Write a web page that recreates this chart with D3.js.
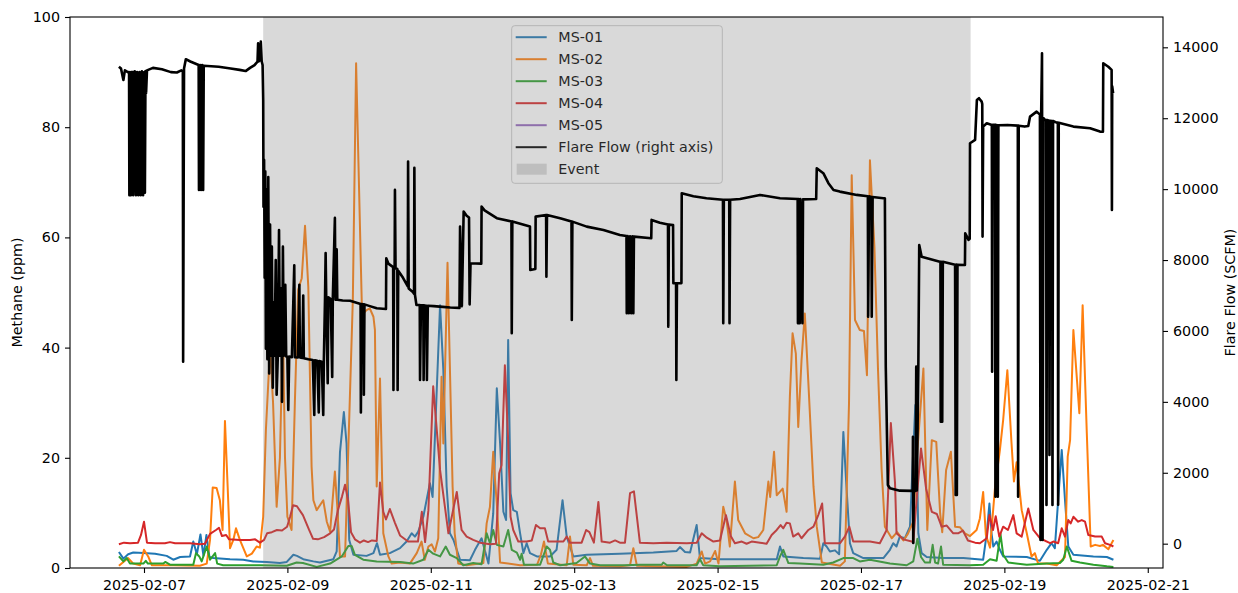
<!DOCTYPE html>
<html>
<head>
<meta charset="utf-8">
<script src="https://cdn.jsdelivr.net/npm/d3@7"></script>
<style>
  body { margin: 0; background: #fff; }
  text { font-family: "DejaVu Sans", sans-serif; }
</style>
</head>
<body>
<svg width="1238" height="593"></svg>
<script>
// data: [hours since 2025-02-06 00:00, value]
const ms01 = [[15.6,2.9],[17.1,1.7],[18.7,2.5],[20.4,2.8],[23.8,2.7],[27.7,2.6],[31.6,2.2],[33.8,1.5],[36.1,2.0],[39.4,2.1],[40.5,4.8],[41.7,2.5],[42.9,6.1],[43.9,2.2],[44.9,6.0],[45.9,2.0],[47.2,1.8],[52.8,1.6],[57.2,1.5],[60.6,1.2],[65.1,1.1],[69.5,0.9],[71.8,1.1],[74.0,2.4],[75.2,2.2],[77.3,1.6],[80.7,1.2],[82.9,1.0],[87.4,1.6],[88.5,3.0],[89.6,21.0],[90.9,28.3],[91.8,22.6],[92.7,5.1],[94.1,2.4],[98.5,2.2],[100.8,2.7],[102.0,4.5],[103.0,2.4],[106.3,2.7],[109.7,3.6],[111.9,4.8],[113.6,6.3],[114.7,5.7],[115.8,6.6],[117.5,9.3],[119.7,15.4],[120.6,12.9],[123.1,47.7],[124.2,35.9],[125.3,14.8],[126.4,6.3],[127.6,5.1],[129.8,1.5],[133.1,1.4],[134.8,3.3],[137.0,5.4],[138.2,3.0],[139.3,0.8],[140.9,9.9],[142.1,32.6],[143.2,22.6],[144.3,10.2],[145.2,8.7],[145.9,41.4],[146.7,13.6],[147.6,10.5],[148.8,10.2],[149.9,6.3],[151.0,2.7],[152.1,4.5],[153.2,2.7],[155.5,2.1],[159.9,2.1],[162.1,3.3],[164.1,12.3],[165.5,5.7],[167.7,2.1],[172.2,2.4],[183.3,2.6],[194.5,2.8],[202.3,3.1],[203.4,3.8],[205.1,2.9],[206.8,2.8],[209.0,7.8],[210.1,1.8],[216.8,1.6],[228.0,1.6],[235.8,1.6],[236.9,3.9],[238.0,2.1],[244.7,1.8],[250.3,1.7],[251.4,4.5],[252.5,3.9],[253.6,3.0],[255.3,3.2],[256.7,2.5],[258.1,24.7],[259.2,14.2],[260.3,4.5],[261.4,2.7],[264.8,1.8],[271.5,1.8],[273.7,3.3],[274.8,4.5],[275.9,3.9],[277.0,5.7],[278.7,5.4],[280.4,7.5],[281.5,21.4],[282.2,29.6],[282.7,20.2],[283.2,6.3],[284.3,2.7],[286.0,2.0],[291.5,1.8],[298.3,1.8],[304.9,1.5],[306.1,6.3],[307.0,11.7],[307.7,6.3],[308.3,3.9],[309.4,4.8],[310.5,3.3],[311.6,2.1],[319.5,2.0],[323.9,1.3],[326.2,3.3],[327.8,4.5],[328.9,3.6],[330.0,12.3],[331.2,21.4],[332.3,12.3],[333.4,3.9],[335.1,2.4],[341.8,2.1],[346.3,2.0],[348.5,1.5]];

const ms02 = [[15.6,0.4],[18.7,1.8],[20.4,0.8],[22.7,0.5],[24.0,3.3],[25.4,2.1],[26.6,0.5],[33.8,0.5],[42.7,0.4],[45.0,0.8],[46.1,5.1],[47.0,14.6],[48.3,14.5],[49.4,12.3],[50.3,6.9],[51.1,26.7],[52.0,14.8],[52.8,3.6],[53.9,5.1],[54.8,7.2],[56.1,5.1],[58.4,2.1],[60.1,2.6],[61.7,3.9],[62.8,3.7],[63.9,9.3],[64.8,25.0],[66.2,40.0],[67.2,30.0],[68.4,11.1],[69.5,20.0],[70.5,44.0],[71.2,20.0],[72.0,9.3],[73.4,6.9],[74.5,30.0],[75.6,50.5],[76.8,52.6],[77.9,62.1],[79.0,51.0],[80.1,18.4],[80.7,12.3],[81.8,10.5],[82.9,11.4],[84.0,12.3],[85.2,8.4],[86.3,6.6],[87.9,17.5],[88.7,11.1],[89.6,2.1],[91.3,2.1],[93.9,48.6],[95.0,91.6],[96.9,48.0],[97.4,46.2],[98.5,46.8],[99.6,47.1],[100.8,45.6],[101.3,43.2],[101.9,14.8],[103.0,34.4],[104.1,6.3],[105.8,2.1],[106.9,0.8],[109.7,1.0],[113.0,0.8],[115.3,2.7],[116.9,4.8],[118.0,1.5],[119.2,3.9],[120.3,4.3],[121.4,3.0],[122.5,5.4],[123.6,34.7],[124.2,22.6],[125.6,55.4],[127.3,14.8],[128.0,6.3],[129.2,0.8],[132.0,0.5],[137.6,0.9],[138.7,8.1],[139.8,11.1],[140.9,21.1],[141.5,16.0],[142.1,11.7],[143.2,1.0],[149.9,0.5],[155.6,0.6],[156.9,2.5],[157.9,4.8],[159.2,0.8],[165.5,0.5],[166.6,5.7],[167.7,0.6],[172.2,0.5],[173.3,1.8],[174.3,0.4],[183.3,0.3],[186.7,0.5],[187.8,3.6],[189.0,0.4],[205.7,0.2],[209.0,0.8],[210.7,3.0],[211.8,0.8],[213.5,1.2],[215.2,3.1],[216.3,0.8],[217.9,11.1],[219.0,8.7],[220.1,3.9],[221.8,15.7],[222.9,8.7],[225.2,6.3],[228.0,5.4],[229.6,5.6],[231.3,6.9],[233.0,15.7],[233.6,12.9],[234.9,21.1],[235.8,13.2],[237.8,14.4],[239.1,10.2],[240.2,31.1],[241.1,42.6],[242.2,38.9],[243.0,25.6],[244.1,37.7],[245.2,46.2],[246.4,33.5],[248.1,14.8],[249.2,7.5],[250.9,1.0],[257.0,0.4],[258.6,1.2],[260.0,30.0],[260.9,71.3],[262.0,45.0],[263.6,43.2],[265.0,43.0],[266.0,35.0],[267.0,74.0],[268.5,58.3],[269.7,36.0],[270.9,18.0],[272.0,7.5],[274.3,5.4],[276.1,6.5],[278.2,5.0],[279.7,6.2],[281.5,8.4],[282.7,20.0],[284.9,36.2],[286.2,6.9],[287.7,23.2],[289.2,22.9],[290.5,9.9],[291.2,6.5],[292.5,17.8],[294.1,21.1],[295.5,7.5],[297.1,7.4],[298.8,6.3],[300.5,5.8],[302.7,6.9],[303.8,9.0],[304.9,13.8],[305.8,6.0],[307.2,3.7],[308.9,14.8],[310.5,21.4],[311.6,26.9],[313.0,35.9],[314.4,22.6],[315.2,15.7],[316.1,19.2],[317.8,10.5],[319.5,6.3],[321.1,2.1],[322.2,2.7],[323.3,0.8],[326.2,0.8],[329.5,0.5],[332.3,2.0],[333.2,20.2],[334.0,23.2],[335.1,43.2],[337.1,28.1],[338.2,47.7],[339.6,24.4],[340.9,3.9],[342.4,4.2],[344.0,4.0],[345.0,4.2],[346.8,3.4],[348.5,5.1]];

const ms03 = [[15.6,2.1],[17.1,1.2],[18.2,1.8],[19.3,0.8],[23.8,0.8],[24.6,1.3],[25.3,0.8],[30.5,0.8],[31.1,1.1],[32.7,0.6],[40.5,0.6],[41.4,2.7],[42.5,2.1],[43.3,1.2],[45.0,3.9],[46.1,1.5],[47.8,2.7],[48.5,0.8],[50.5,0.5],[62.8,0.5],[71.8,0.4],[75.1,1.0],[77.2,0.9],[81.8,0.2],[86.3,0.8],[90.2,2.1],[92.4,4.0],[93.5,4.0],[94.6,2.4],[97.4,1.5],[101.9,1.2],[109.7,1.1],[114.1,0.8],[117.5,1.5],[119.2,3.3],[120.8,2.6],[123.1,2.1],[125.0,3.9],[126.4,2.4],[128.7,1.8],[130.9,0.5],[134.2,0.9],[137.0,0.7],[138.7,6.3],[139.8,4.5],[140.9,6.9],[142.1,4.2],[144.3,3.9],[145.9,6.9],[147.1,3.3],[148.8,2.8],[149.9,1.5],[150.4,2.6],[151.2,0.6],[156.6,0.6],[158.8,3.9],[159.9,3.3],[161.0,1.0],[163.3,0.5],[168.8,0.9],[171.6,2.1],[173.3,0.8],[176.7,0.5],[185.0,0.5],[190.0,0.6],[197.3,0.6],[197.8,1.0],[199.1,0.5],[209.0,0.5],[210.1,1.6],[211.2,0.5],[216.8,0.3],[235.8,0.5],[236.9,2.1],[238.0,3.3],[239.7,0.9],[243.6,0.8],[251.4,0.6],[254.7,1.0],[258.1,1.8],[261.4,1.8],[263.6,1.2],[267.0,1.5],[273.7,0.8],[279.3,0.5],[281.5,1.2],[282.9,5.3],[284.1,2.0],[285.4,1.0],[287.1,1.0],[288.0,4.2],[288.8,1.0],[289.8,0.8],[290.8,3.9],[291.5,0.6],[300.5,0.5],[304.9,0.6],[307.2,1.6],[309.4,1.3],[310.7,6.2],[311.6,2.4],[313.3,1.0],[319.5,0.6],[326.2,0.8],[330.6,0.9],[331.7,1.5],[332.9,3.9],[334.5,1.3],[337.3,1.0],[341.8,0.6],[346.3,0.3],[348.5,0.2]];

const ms04 = [[15.6,4.3],[17.3,4.6],[19.3,4.5],[22.0,4.6],[23.0,6.0],[24.0,8.4],[25.0,4.6],[27.7,4.5],[31.0,4.5],[32.7,4.7],[34.4,4.5],[39.4,4.5],[42.7,4.3],[44.4,4.4],[46.1,6.2],[48.1,6.9],[49.1,7.3],[50.1,5.8],[51.5,6.0],[52.5,5.2],[56.1,5.1],[59.5,5.1],[61.2,5.2],[62.8,4.6],[64.2,5.1],[65.2,6.3],[66.8,6.5],[68.5,6.9],[70.2,6.8],[71.9,7.5],[72.9,9.3],[73.9,11.4],[75.2,11.2],[77.2,9.6],[79.2,7.0],[80.6,5.3],[82.2,5.2],[84.3,5.6],[86.3,6.3],[87.6,7.0],[88.9,10.5],[90.3,13.0],[91.3,15.1],[92.3,12.3],[93.3,6.5],[94.6,5.2],[96.3,4.6],[97.6,5.0],[99.0,4.7],[100.3,5.0],[101.9,4.9],[103.0,15.5],[104.1,10.2],[105.0,8.8],[106.3,10.7],[108.0,8.2],[109.7,5.9],[112.4,4.8],[115.7,4.8],[117.0,10.2],[118.1,4.7],[119.2,10.5],[120.8,33.0],[123.1,17.8],[125.9,6.3],[128.7,13.8],[130.3,6.9],[132.0,5.7],[134.2,5.1],[136.5,4.6],[139.8,4.3],[141.8,4.4],[142.9,17.2],[143.7,18.7],[144.8,36.8],[145.9,23.2],[146.7,9.3],[147.6,6.9],[149.3,4.8],[152.1,4.8],[153.8,5.0],[155.2,7.8],[156.6,7.2],[158.2,7.2],[159.3,4.8],[164.4,4.8],[165.5,5.7],[166.6,4.6],[170.5,4.6],[172.0,6.9],[173.1,6.5],[174.6,4.6],[176.1,12.0],[177.2,4.8],[180.0,4.6],[181.7,5.0],[183.3,4.6],[185.0,4.6],[186.7,13.6],[188.0,13.9],[190.0,4.6],[194.5,4.5],[199.0,4.6],[205.7,4.5],[209.0,4.6],[210.7,6.3],[212.4,5.5],[214.6,4.8],[216.8,5.0],[218.8,9.6],[220.4,5.8],[221.8,4.5],[224.1,4.8],[225.7,4.4],[227.4,4.8],[230.2,4.6],[232.4,4.4],[234.1,6.0],[235.8,6.9],[237.1,7.8],[238.0,7.2],[239.1,8.2],[240.2,8.1],[241.3,5.7],[243.0,6.3],[244.1,5.4],[246.4,6.9],[248.1,7.5],[249.7,9.6],[251.0,11.7],[251.9,4.5],[257.0,4.5],[258.6,5.7],[260.1,7.5],[261.4,4.8],[267.0,4.8],[270.3,4.5],[272.6,6.9],[274.0,26.3],[275.4,15.4],[275.9,6.3],[278.2,5.2],[281.0,4.8],[281.5,4.6],[282.7,12.9],[284.1,21.7],[285.8,14.4],[287.7,10.2],[289.4,9.8],[291.0,7.5],[292.7,7.7],[294.9,6.3],[296.5,6.3],[298.1,6.8],[299.8,5.0],[302.2,4.6],[303.8,4.5],[306.1,5.4],[307.0,9.6],[308.2,6.9],[309.1,9.4],[310.3,5.7],[311.6,7.5],[313.2,6.9],[315.0,9.6],[316.1,6.3],[317.8,5.7],[320.0,10.8],[321.7,6.9],[323.9,5.4],[327.3,4.5],[328.4,4.8],[330.0,4.5],[331.2,7.2],[332.3,5.7],[333.4,8.7],[334.2,8.1],[335.1,9.3],[336.7,8.4],[337.9,8.7],[339.0,8.4],[340.1,6.0],[342.4,5.7],[344.6,5.7],[345.7,4.5],[347.4,4.2],[348.5,3.9]];

const ms05 = [];

const flare = [[15.6,13450],[16.3,13400],[17.1,13080],[17.6,13350],[18.6,13300],[19.0,13300],[19.1,9830],[19.6,9830],[19.7,13300],[20.3,13300],[20.4,9830],[20.9,13320],[21.3,9830],[21.7,13300],[22.1,9830],[22.5,13300],[22.9,9830],[23.3,13320],[23.7,9830],[24.1,13300],[24.3,9900],[24.5,13330],[24.7,12714],[25.0,13350],[27.0,13420],[30.0,13380],[33.0,13300],[35.0,13290],[36.5,13350],[37.0,13330],[37.1,5134],[37.4,13400],[38.0,13665],[39.5,13600],[42.3,13500],[42.4,9978],[42.8,13500],[43.1,9978],[43.5,13500],[43.8,9978],[44.0,13480],[49.0,13450],[53.0,13400],[56.0,13363],[58.0,13330],[59.5,13420],[61.0,13500],[62.0,13597],[62.2,14116],[62.4,13600],[62.9,13650],[63.1,14161],[63.4,13600],[63.7,13500],[63.9,12500],[64.0,9500],[64.2,10824],[64.4,7500],[64.6,10500],[64.8,5500],[65.0,10000],[65.3,5200],[65.6,10340],[65.9,4800],[66.2,9000],[66.5,5300],[66.8,8378],[67.1,4400],[67.4,6800],[67.7,5300],[68.1,8000],[68.4,4200],[68.8,5300],[69.2,8849],[69.5,5300],[69.9,7200],[70.2,4000],[70.5,8378],[70.8,5300],[71.3,7300],[71.6,5280],[72.0,5280],[72.3,3770],[72.6,5280],[73.5,5260],[74.3,7855],[74.5,5260],[75.5,5250],[76.0,7300],[76.2,5250],[77.0,5240],[77.3,7000],[77.5,5230],[79.0,5200],[80.5,5180],[81.0,3631],[81.2,5170],[82.0,5160],[82.5,3700],[82.7,5150],[83.5,5134],[84.0,3631],[84.2,5134],[84.6,6950],[84.8,8200],[85.0,6950],[85.5,4525],[85.7,6950],[86.5,6900],[87.0,4700],[87.2,6900],[87.9,9188],[88.1,6880],[88.5,8300],[88.7,6880],[90.5,6860],[93.0,6850],[96.5,6760],[96.6,3700],[96.8,6760],[97.5,6750],[97.6,4200],[97.8,6750],[99.6,6700],[101.9,6640],[105.0,6620],[105.1,8051],[105.8,7900],[107.4,7800],[107.5,4336],[107.7,7800],[107.9,7769],[108.0,9978],[108.2,7769],[108.8,7750],[108.9,4336],[109.1,7700],[110.7,7500],[112.3,7260],[112.4,10776],[112.6,7200],[114.0,7100],[114.4,7050],[114.5,10600],[114.7,7020],[115.2,6730],[116.3,6730],[116.4,4618],[116.7,6720],[117.5,6720],[117.6,4618],[117.9,6720],[118.6,6710],[118.7,4618],[119.0,6710],[121.0,6700],[124.0,6680],[126.5,6660],[129.6,6650],[129.8,8943],[130.4,6700],[131.0,9366],[132.0,9250],[132.8,9200],[133.0,6750],[133.3,7910],[136.9,7900],[137.0,9507],[138.0,9400],[142.1,9180],[147.0,9090],[147.1,5935],[147.3,9090],[153.2,8943],[153.3,7721],[155.0,7750],[155.1,9225],[158.6,9272],[158.7,7532],[158.9,9272],[163.3,9180],[167.1,9084],[167.2,6311],[167.4,9084],[172.2,8943],[177.8,8849],[183.3,8708],[185.5,8680],[185.6,6500],[185.9,8680],[186.3,6500],[186.7,8670],[187.1,6500],[187.5,8670],[187.8,6500],[188.0,8661],[193.8,8615],[193.9,9132],[196.7,9050],[199.4,9000],[199.5,6122],[199.7,9000],[201.1,8990],[201.2,7346],[202.1,7346],[202.2,4618],[202.4,7346],[203.9,7350],[204.0,9885],[207.9,9800],[212.3,9744],[217.8,9700],[217.9,6217],[218.1,9700],[219.9,9700],[220.0,6217],[220.2,9700],[223.5,9720],[230.2,9837],[236.9,9744],[242.8,9720],[242.9,6217],[243.1,9720],[243.5,6217],[243.7,9720],[244.4,6217],[244.6,9710],[249.0,9720],[249.2,10590],[251.4,10449],[253.1,10167],[254.8,9978],[256.9,9930],[262.6,9837],[266.3,9800],[266.4,6404],[266.7,9800],[267.5,9780],[267.6,6404],[267.9,9780],[271.5,9744],[272.0,9740],[272.1,8096],[272.3,5000],[273.0,1656],[273.7,1563],[277.0,1495],[281.3,1490],[281.4,3018],[281.5,20],[281.7,1490],[282.3,1490],[282.5,4993],[282.7,1500],[283.2,5000],[283.5,8426],[284.3,8096],[290.4,7955],[290.6,7950],[290.7,3442],[290.9,7950],[291.2,3442],[291.4,7950],[295.5,7870],[295.7,1374],[295.9,7870],[296.1,1374],[296.3,7865],[298.8,7862],[298.9,8756],[300.0,8567],[300.4,8600],[300.5,11295],[302.2,11388],[302.8,12517],[303.5,12565],[304.4,12469],[304.6,12400],[304.7,8661],[304.9,11764],[306.1,11859],[307.8,11811],[307.9,4852],[308.1,11811],[308.9,11811],[309.0,1326],[309.2,11811],[309.7,11800],[309.8,1326],[310.0,11800],[313.0,11811],[316.5,11790],[316.6,1326],[316.8,11790],[318.8,11764],[320.0,11780],[320.6,12046],[322.8,12187],[323.9,12100],[324.1,104],[324.3,12000],[324.6,13834],[324.8,104],[325.1,12000],[325.6,11952],[326.0,11950],[326.1,1092],[326.3,11950],[327.0,11930],[327.1,2500],[327.3,11930],[328.0,11920],[328.1,1092],[328.3,11920],[329.5,11877],[329.9,11880],[330.0,1100],[330.2,11870],[335.1,11764],[340.7,11717],[344.0,11623],[345.0,11620],[345.1,13552],[346.8,13450],[347.9,13363],[348.0,9414],[348.1,12900],[348.4,12706]];

// event window (hours) and tick values
const eventSpan = [63.9, 300.7];
const leftTicks = [0, 20, 40, 60, 80, 100];
const rightTicks = [0, 2000, 4000, 6000, 8000, 10000, 12000, 14000];
const seriesNames = ['MS-01', 'MS-02', 'MS-03', 'MS-04', 'MS-05'];
const seriesColors = ['#1f77b4', '#ff7f0e', '#2ca02c', '#d62728', '#9467bd'];
const series = [ms01, ms02, ms03, ms04, ms05];

const svg = d3.select('svg');
const width = +svg.attr('width');
const height = +svg.attr('height');
const margin = { top: 17, right: 75, bottom: 25, left: 70 };
const innerW = width - margin.left - margin.right;
const innerH = height - margin.top - margin.bottom;

const t0 = new Date(2025, 1, 6);
const toDate = h => new Date(+t0 + h * 3600e3);

const x = d3.scaleTime().domain([toDate(-0.77), toDate(365.1)]).range([0, innerW]);
const y = d3.scaleLinear().domain([0, 100]).range([innerH, 0]);
const y2 = d3.scaleLinear().domain([-686, 14855]).range([innerH, 0]);

const g = svg.append('g').attr('transform', `translate(${margin.left},${margin.top})`);

svg.append('defs').append('clipPath').attr('id', 'plot')
  .append('rect').attr('width', innerW).attr('height', innerH);

const line = d3.line().x(d => x(toDate(d[0]))).y(d => y(d[1]));
const line2 = d3.line().x(d => x(toDate(d[0]))).y(d => y2(d[1]));

// methane lines (left axis)
const lines = g.append('g').attr('clip-path', 'url(#plot)');
series.forEach((s, i) => {
  if (!s.length) return;
  lines.append('path').datum(s)
    .attr('d', line)
    .attr('fill', 'none')
    .attr('stroke', seriesColors[i])
    .attr('stroke-width', 2)
    .attr('stroke-linejoin', 'round');
});

// legend (drawn under the event shading, like the twin axis does)
const lg = g.append('g').attr('transform', `translate(${511.7 - margin.left},${25.7 - margin.top})`);
lg.append('rect').attr('width', 210.6).attr('height', 157.6).attr('rx', 3)
  .attr('fill', '#fff').attr('fill-opacity', 0.8).attr('stroke', '#cccccc');
const legendItems = seriesNames.map((n, i) => ({ name: n, color: seriesColors[i], kind: 'line', w: 2 }))
  .concat([{ name: 'Flare Flow (right axis)', color: '#000', kind: 'line', w: 2 },
           { name: 'Event', color: '#808080', kind: 'patch' }]);
legendItems.forEach((d, i) => {
  const cy = 11.5 + i * 22;
  if (d.kind === 'line') {
    lg.append('line').attr('x1', 4).attr('x2', 35).attr('y1', cy).attr('y2', cy)
      .attr('stroke', d.color).attr('stroke-width', d.w);
  } else {
    lg.append('rect').attr('x', 5).attr('y', cy - 5.5).attr('width', 30).attr('height', 11)
      .attr('fill', d.color).attr('fill-opacity', 0.3);
  }
  lg.append('text').attr('x', 46.6).attr('y', cy + 5.2)
    .attr('font-size', 14.3).attr('fill', '#000').text(d.name);
});

// event shading
g.append('rect')
  .attr('x', x(toDate(eventSpan[0])))
  .attr('width', x(toDate(eventSpan[1])) - x(toDate(eventSpan[0])))
  .attr('y', 0).attr('height', innerH)
  .attr('fill', '#808080').attr('fill-opacity', 0.3);

// flare flow (right axis)
g.append('g').attr('clip-path', 'url(#plot)')
  .append('path').datum(flare)
  .attr('d', line2)
  .attr('fill', 'none')
  .attr('stroke', '#000')
  .attr('stroke-width', 2.6)
  .attr('stroke-linejoin', 'round');

// axes
const styleAxis = sel => {
  sel.select('.domain').remove();
  sel.selectAll('line').attr('stroke', '#000').attr('stroke-width', 1.1);
  sel.selectAll('text').attr('font-size', 14.3).attr('fill', '#000')
    .attr('font-family', '"DejaVu Sans", sans-serif');
};

const xTicks = d3.timeDay.every(2).range(toDate(0), toDate(365));
g.append('g').attr('transform', `translate(0,${innerH})`)
  .call(d3.axisBottom(x).tickValues(xTicks).tickFormat(d3.timeFormat('%Y-%m-%d')).tickSize(5).tickPadding(7))
  .call(styleAxis);

g.append('g')
  .call(d3.axisLeft(y).tickValues(leftTicks).tickSize(5).tickPadding(5))
  .call(styleAxis);

g.append('g').attr('transform', `translate(${innerW},0)`)
  .call(d3.axisRight(y2).tickValues(rightTicks).tickFormat(d3.format('d')).tickSize(5).tickPadding(5))
  .call(styleAxis);

// frame
g.append('rect').attr('width', innerW).attr('height', innerH)
  .attr('fill', 'none').attr('stroke', '#000').attr('stroke-width', 1.1);

// axis titles
svg.append('text')
  .attr('transform', `translate(22,${margin.top + innerH / 2}) rotate(-90)`)
  .attr('text-anchor', 'middle').attr('font-size', 14.3).text('Methane (ppm)');
svg.append('text')
  .attr('transform', `translate(1235,${margin.top + innerH / 2}) rotate(-90)`)
  .attr('text-anchor', 'middle').attr('font-size', 14.3).text('Flare Flow (SCFM)');
</script>
</body>
</html>
